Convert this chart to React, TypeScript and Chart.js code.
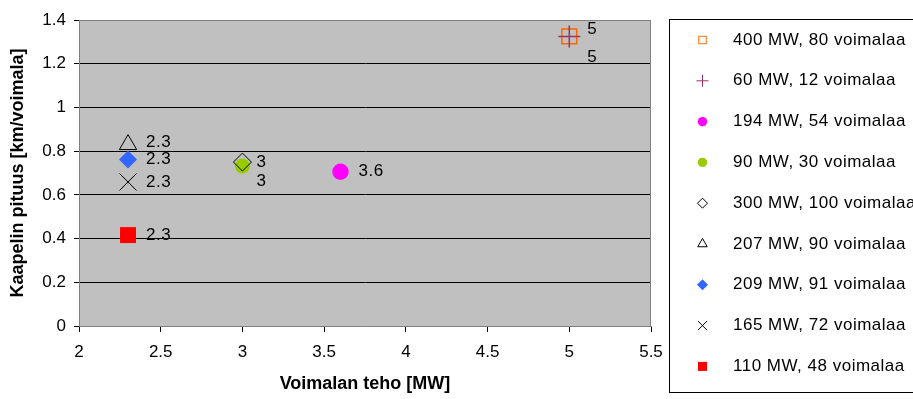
import React, { useEffect, useRef } from "react";
import { Chart, registerables } from "chart.js";
import { drawPoint } from "chart.js/helpers";

Chart.register(...registerables);

const seriesNames = [
  "400 MW, 80 voimalaa",
  "60 MW, 12 voimalaa",
  "194 MW, 54 voimalaa",
  "90 MW, 30 voimalaa",
  "300 MW, 100 voimalaa",
  "207 MW, 90 voimalaa",
  "209 MW, 91 voimalaa",
  "165 MW, 72 voimalaa",
  "110 MW, 48 voimalaa",
];
const powerMW = [5, 5, 3.6, 3, 3, 2.3, 2.3, 2.3, 2.3];
const cableKm = [1.325, 1.325, 0.706, 0.732, 0.75, 0.83, 0.762, 0.659, 0.416];

const xTicks = [2, 2.5, 3, 3.5, 4, 4.5, 5, 5.5];
const yTicks = [0, 0.2, 0.4, 0.6, 0.8, 1, 1.2, 1.4];

const FONT = '"Liberation Sans", Arial, sans-serif';

// marker styles per series
const styles = [
  { pointStyle: "rect", radius: 10.5, legendRadius: 5.3, fill: "rgba(0,0,0,0)", stroke: "#FF6600", width: 1.5, dx: 18, dy: -7 },
  { pointStyle: "cross", radius: 11, legendRadius: 6, fill: "rgba(0,0,0,0)", stroke: "#993366", width: 1.5, dx: 18, dy: 21 },
  { pointStyle: "circle", radius: 8.2, legendRadius: 4.7, fill: "#FF00FF", stroke: "#FF00FF", width: 0, dx: 18, dy: 0 },
  { pointStyle: "circle", radius: 7.6, legendRadius: 4.7, fill: "#99CC00", stroke: "#99CC00", width: 0, dx: 14, dy: 15 },
  { pointStyle: "rectRot", radius: 9, legendRadius: 5, fill: "rgba(0,0,0,0)", stroke: "#000000", width: 1, dx: 14, dy: 0 },
  { pointStyle: "triangle", radius: 10, legendRadius: 5.5, fill: "rgba(0,0,0,0)", stroke: "#000000", width: 1, dx: 18, dy: -2 },
  { pointStyle: "rectRot", radius: 9, legendRadius: 5.5, fill: "#3366FF", stroke: "#3366FF", width: 0, dx: 18, dy: 0 },
  { pointStyle: "crossRot", radius: 12, legendRadius: 6.5, fill: "rgba(0,0,0,0)", stroke: "#000000", width: 1, dx: 18, dy: 0 },
  { pointStyle: "rect", radius: 11.3, legendRadius: 6.4, fill: "#FF0000", stroke: "#FF0000", width: 0, dx: 18, dy: 0 },
];

const fmt = (v: number) => String(Number(v.toFixed(2)));

const plotBg = {
  id: "plotBg",
  beforeDraw(chart: any) {
    const { ctx, chartArea: a } = chart;
    ctx.save();
    ctx.fillStyle = "#C0C0C0";
    ctx.fillRect(a.left, a.top, a.right - a.left, a.bottom - a.top);
    ctx.restore();
  },
  beforeDatasetsDraw(chart: any) {
    const { ctx, chartArea: a } = chart;
    ctx.save();
    ctx.strokeStyle = "#808080";
    ctx.lineWidth = 1;
    ctx.beginPath();
    const r = Math.round(a.right) - 0.5;
    const t = Math.round(a.top) + 0.5;
    ctx.moveTo(a.left, t);
    ctx.lineTo(r, t);
    ctx.lineTo(r, a.bottom);
    ctx.stroke();
    ctx.restore();
  },
};

const dataLabels = {
  id: "dataLabels",
  afterDatasetsDraw(chart: any) {
    const { ctx } = chart;
    ctx.save();
    ctx.font = `17px ${FONT}`;
    (ctx as any).letterSpacing = "0.5px";
    ctx.fillStyle = "#000";
    ctx.textAlign = "left";
    ctx.textBaseline = "middle";
    chart.data.datasets.forEach((ds: any, i: number) => {
      const meta = chart.getDatasetMeta(i);
      meta.data.forEach((pt: any, j: number) => {
        const v = ds.data[j].x;
        ctx.fillText(fmt(v), pt.x + styles[i].dx, pt.y + styles[i].dy);
      });
    });
    ctx.restore();
  },
};

const boxLegend = {
  id: "boxLegend",
  afterDraw(chart: any) {
    const { ctx } = chart;
    ctx.save();
    ctx.strokeStyle = "#000";
    ctx.lineWidth = 1;
    ctx.strokeRect(669.5, 19.5, 260, 373);
    ctx.font = `17px ${FONT}`;
    (ctx as any).letterSpacing = "0.5px";
    ctx.textAlign = "left";
    ctx.textBaseline = "middle";
    seriesNames.forEach((name, i) => {
      const y = 40 + i * 40.8;
      const s = styles[i];
      ctx.fillStyle = s.fill;
      ctx.strokeStyle = s.stroke;
      ctx.lineWidth = s.width > 0 ? 1 : 0;
      drawPoint(ctx, { pointStyle: s.pointStyle, radius: s.legendRadius, rotation: 0, borderWidth: s.width > 0 ? 1 : 0 }, 702.5, y);
      ctx.fillStyle = "#000";
      ctx.fillText(name, 733, y);
    });
    ctx.restore();
  },
};

export default function App() {
  const ref = useRef<HTMLCanvasElement | null>(null);
  useEffect(() => {
    if (!ref.current) return;
    const datasets = seriesNames.map((name, i) => ({
      label: name,
      data: [{ x: powerMW[i], y: cableKm[i] }],
      pointStyle: styles[i].pointStyle,
      pointRadius: styles[i].radius,
      pointHoverRadius: styles[i].radius,
      backgroundColor: styles[i].fill,
      borderColor: styles[i].stroke,
      pointBackgroundColor: styles[i].fill,
      pointBorderColor: styles[i].stroke,
      pointBorderWidth: styles[i].width,
      showLine: false,
      order: -i,
    }));
    const chart = new Chart(ref.current, {
      type: "scatter",
      data: { datasets },
      plugins: [plotBg, dataLabels, boxLegend],
      options: {
        animation: false,
        responsive: false,
        devicePixelRatio: 1,
        font: { family: FONT },
        layout: { padding: { top: 20, right: 262, left: 0, bottom: 0 } },
        plugins: { legend: { display: false }, tooltip: { enabled: false } },
        scales: {
          x: {
            type: "linear",
            min: 2,
            max: 5.5,
            afterBuildTicks: (s: any) => { s.ticks = xTicks.map((v) => ({ value: v })); },
            afterFit: (s: any) => { s.height = 73; },
            ticks: {
              padding: 10,
              color: "#000",
              font: { family: FONT, size: 17 },
              callback: (v: any) => fmt(Number(v)),
              maxRotation: 0,
              autoSkip: false,
            },
            grid: { drawOnChartArea: false, drawTicks: true, tickLength: 6, tickColor: "#000", lineWidth: 1 },
            border: { display: true, color: "#808080", width: 1 },
            title: {
              display: true,
              text: "Voimalan teho [MW]",
              color: "#000",
              font: { family: FONT, size: 18, weight: "bold" },
              padding: { top: 0, bottom: 4 },
            },
          },
          y: {
            type: "linear",
            min: 0,
            max: 1.4,
            afterBuildTicks: (s: any) => { s.ticks = yTicks.map((v) => ({ value: v })); },
            afterFit: (s: any) => { s.width = 79; },
            ticks: {
              padding: 8,
              color: "#000",
              font: { family: FONT, size: 17 },
              callback: (v: any) => fmt(Number(v)),
              autoSkip: false,
            },
            grid: {
              drawTicks: true,
              tickLength: 5,
              tickColor: "#000",
              lineWidth: 1,
              color: (c: any) => {
                const v = c.tick ? c.tick.value : 0;
                return v <= 0 || v >= 1.4 ? "#808080" : "#000000";
              },
            },
            border: { display: true, color: "#808080", width: 1 },
            title: {
              display: true,
              text: "Kaapelin pituus [km/voimala]",
              color: "#000",
              font: { family: FONT, size: 18, weight: "bold" },
              padding: { top: 7, bottom: 0 },
            },
          },
        },
      } as any,
    });
    return () => chart.destroy();
  }, []);
  return (
    <div style={{ position: "fixed", left: 0, top: 0, width: 913, height: 399, background: "#fff" }}>
      <canvas ref={ref} width={913} height={399} style={{ display: "block", width: 913, height: 399 }} />
    </div>
  );
}
